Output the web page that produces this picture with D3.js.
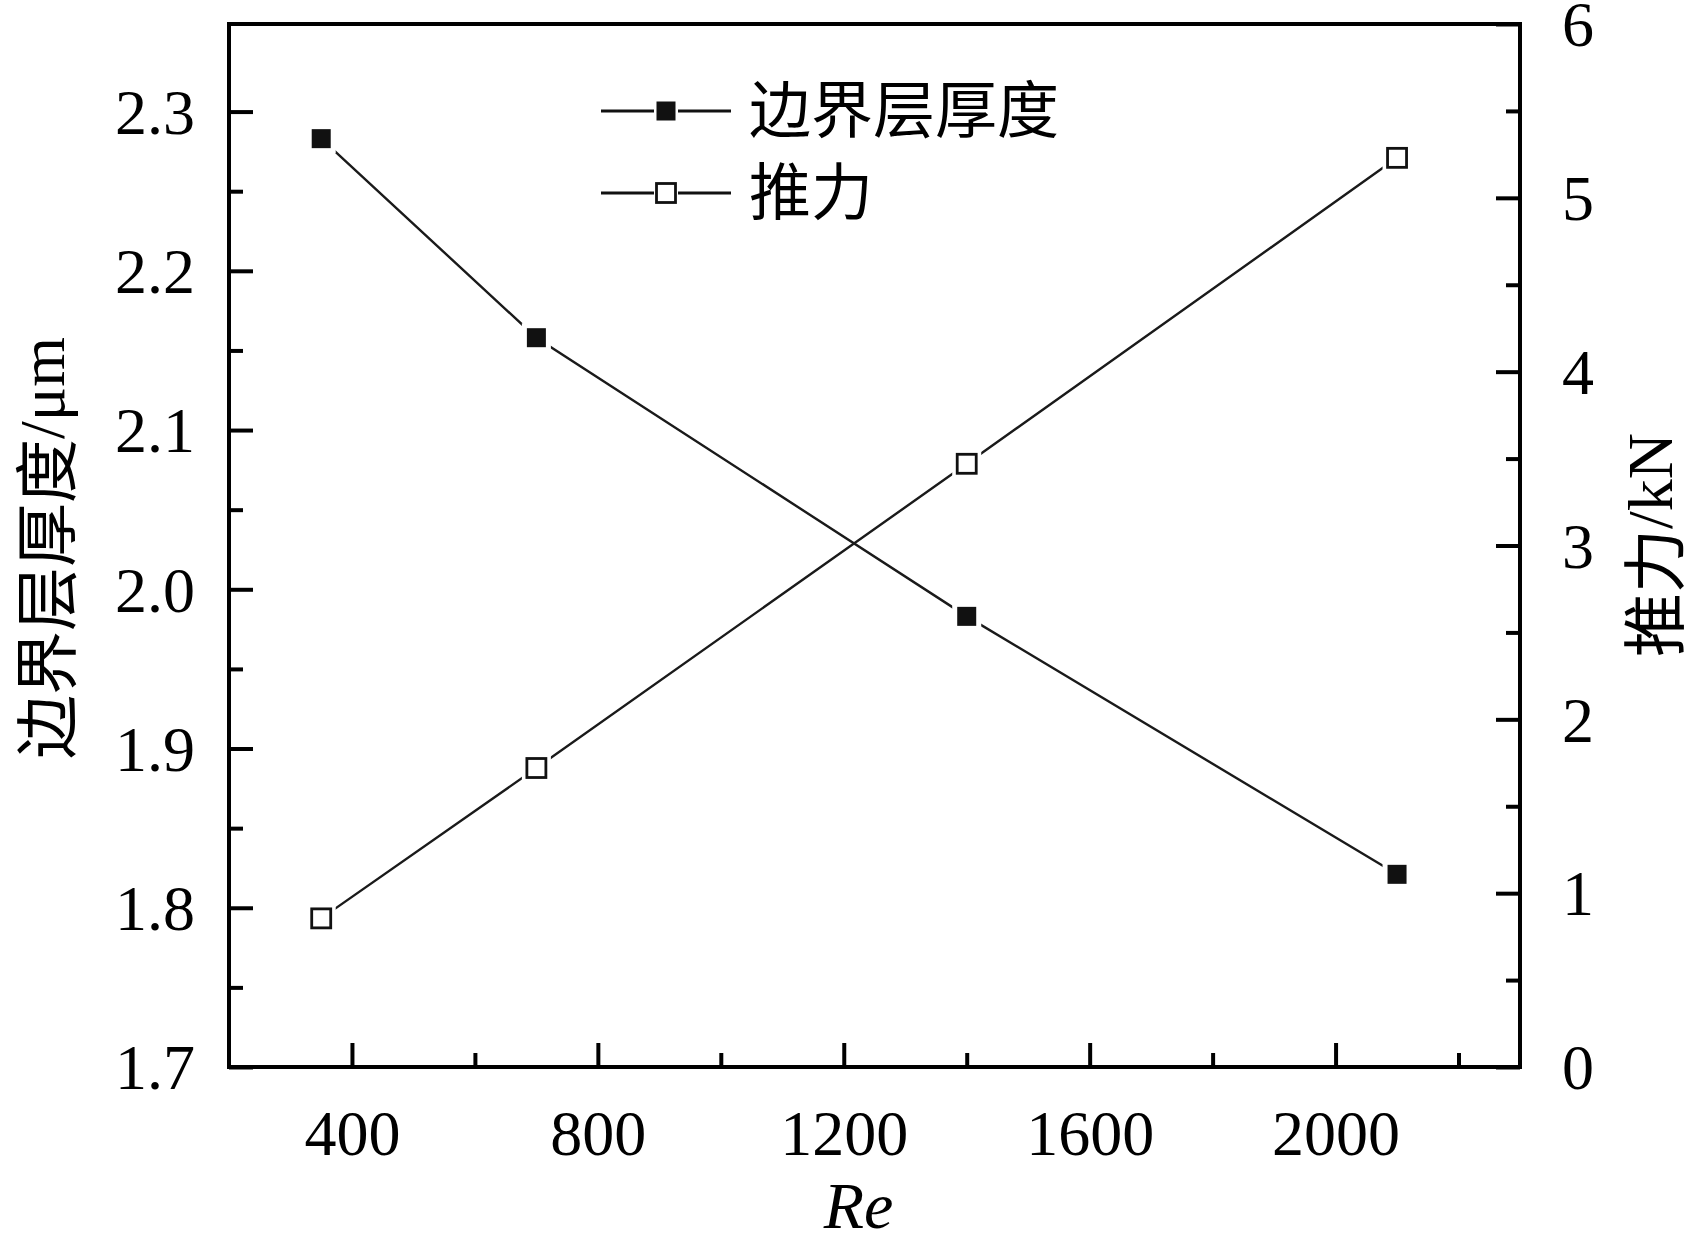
<!DOCTYPE html>
<html>
<head>
<meta charset="utf-8">
<script src="https://cdn.jsdelivr.net/npm/d3@7"></script>
<style>
  body { margin: 0; background: #fff; }
  .tick-label { font-family: "Liberation Serif", "Times New Roman", serif; font-size: 64px; fill: #000; }
  .cjk { font-family: "Noto Sans CJK SC", sans-serif; }
</style>
</head>
<body>
<div id="chart"></div>
<script>
// Re values and the two series
const reValues = [350, 700, 1400, 2100];
const thickness = [2.283, 2.158, 1.983, 1.821];   // 边界层厚度 / μm (left axis)
const thrust = [0.855, 1.72, 3.47, 5.23];          // 推力 / kN (right axis)

const xTicks = [400, 800, 1200, 1600, 2000];
const xMinor = [600, 1000, 1400, 1800, 2200];
const yLeftTicks = [1.7, 1.8, 1.9, 2.0, 2.1, 2.2, 2.3];
const yLeftMinor = [1.75, 1.85, 1.95, 2.05, 2.15, 2.25];
const yRightTicks = [0, 1, 2, 3, 4, 5, 6];
const yRightMinor = [0.5, 1.5, 2.5, 3.5, 4.5, 5.5];
const legendNames = ["边界层厚度", "推力"];

const W = 1684, H = 1238;
const margin = { top: 24, right: 164, bottom: 171, left: 229 };
const width = W - margin.left - margin.right;
const height = H - margin.top - margin.bottom;

const svg = d3.select("#chart").append("svg")
    .attr("width", W).attr("height", H);
const g = svg.append("g").attr("transform", "translate(" + margin.left + "," + margin.top + ")");

const xScale = d3.scaleLinear().domain([200, 2300]).range([0, width]);
const yLeft = d3.scaleLinear().domain([1.7, 2.355]).range([height, 0]);
const yRight = d3.scaleLinear().domain([0, 6]).range([height, 0]);

const MAJOR = 24, MINOR = 14;

// ticks point inward
function styleAxis(sel) {
    sel.select(".domain").remove();
    sel.selectAll(".tick line").attr("stroke", "#000").attr("stroke-width", 4);
    sel.selectAll(".tick text").attr("class", "tick-label").attr("fill", "#000");
}

// bottom axis
g.append("g").attr("transform", "translate(0," + height + ")")
    .call(d3.axisBottom(xScale).tickValues(xTicks).tickSize(-MAJOR).tickPadding(0).tickFormat(d3.format("d")))
    .call(styleAxis)
    .call(s => s.selectAll(".tick text").attr("dy", null).attr("y", 88));
g.append("g").attr("transform", "translate(0," + height + ")")
    .call(d3.axisBottom(xScale).tickValues(xMinor).tickSize(-MINOR).tickFormat(""))
    .call(styleAxis);

// left axis
g.append("g")
    .call(d3.axisLeft(yLeft).tickValues(yLeftTicks).tickSize(-MAJOR).tickPadding(34).tickFormat(d3.format(".1f")))
    .call(styleAxis)
    .call(s => s.selectAll(".tick text").attr("x", -34).attr("dy", "0.34em"));
g.append("g")
    .call(d3.axisLeft(yLeft).tickValues(yLeftMinor).tickSize(-MINOR).tickFormat(""))
    .call(styleAxis);

// right axis
g.append("g").attr("transform", "translate(" + width + ",0)")
    .call(d3.axisRight(yRight).tickValues(yRightTicks).tickSize(-MAJOR).tickFormat(d3.format("d")))
    .call(styleAxis)
    .call(s => s.selectAll(".tick text").attr("x", 42).attr("dy", "0.34em"));
g.append("g").attr("transform", "translate(" + width + ",0)")
    .call(d3.axisRight(yRight).tickValues(yRightMinor).tickSize(-MINOR).tickFormat(""))
    .call(styleAxis);

// frame
g.append("rect").attr("x", 0).attr("y", 0).attr("width", width).attr("height", height)
    .attr("fill", "none").attr("stroke", "#000").attr("stroke-width", 4);

const MS = 19;

function drawSeries(values, yScale, filled) {
    const pts = reValues.map((r, i) => [xScale(r), yScale(values[i])]);
    g.append("path")
        .attr("d", d3.line()(pts))
        .attr("fill", "none").attr("stroke", "#1a1a1a").attr("stroke-width", 2.4);
    // white halo leaves a small gap between line and marker
    g.selectAll(null).data(pts).join("rect")
        .attr("x", d => d[0] - MS / 2 - 5).attr("y", d => d[1] - MS / 2 - 5)
        .attr("width", MS + 10).attr("height", MS + 10).attr("fill", "#fff");
    g.selectAll(null).data(pts).join("rect")
        .attr("x", d => d[0] - MS / 2).attr("y", d => d[1] - MS / 2)
        .attr("width", MS).attr("height", MS)
        .attr("fill", filled ? "#111" : "#fff")
        .attr("stroke", "#111").attr("stroke-width", filled ? 0 : 2.8);
}

drawSeries(thickness, yLeft, true);
drawSeries(thrust, yRight, false);

// legend
const legend = svg.append("g");
const legRows = legendNames.map((name, i) => ({ name: name, filled: i === 0, y: 111 + i * 82 }));
legRows.forEach(d => {
    const row = legend.append("g").attr("transform", "translate(0," + d.y + ")");
    row.append("line").attr("x1", 601).attr("x2", 654).attr("y1", 0).attr("y2", 0)
        .attr("stroke", "#111").attr("stroke-width", 2.8);
    row.append("line").attr("x1", 678).attr("x2", 731).attr("y1", 0).attr("y2", 0)
        .attr("stroke", "#111").attr("stroke-width", 2.8);
    row.append("rect").attr("x", 666 - MS / 2).attr("y", -MS / 2).attr("width", MS).attr("height", MS)
        .attr("fill", d.filled ? "#111" : "#fff")
        .attr("stroke", "#111").attr("stroke-width", d.filled ? 0 : 2.8);
    row.append("text").attr("class", "cjk").attr("x", 749).attr("y", 0)
        .attr("dy", "0.36em").attr("font-size", 62).attr("fill", "#000")
        .text(d.name);
});

// axis titles
svg.append("text")
    .attr("x", margin.left + width / 2 - 16).attr("y", 1228)
    .attr("text-anchor", "middle")
    .style("font-family", "'Liberation Serif', serif").style("font-style", "italic")
    .attr("font-size", 66).text("Re");

const leftTitle = svg.append("text")
    .attr("transform", "translate(42,548) rotate(-90)")
    .attr("text-anchor", "middle").attr("dominant-baseline", "central")
    .attr("font-size", 64);
leftTitle.append("tspan").attr("class", "cjk").text("边界层厚度");
leftTitle.append("tspan").style("font-family", "'Liberation Serif', serif").text("/μm");

const rightTitle = svg.append("text")
    .attr("transform", "translate(1650,545) rotate(-90)")
    .attr("text-anchor", "middle").attr("dominant-baseline", "central")
    .attr("font-size", 64);
rightTitle.append("tspan").attr("class", "cjk").text("推力");
rightTitle.append("tspan").style("font-family", "'Liberation Serif', serif").text("/kN");
</script>
</body>
</html>
